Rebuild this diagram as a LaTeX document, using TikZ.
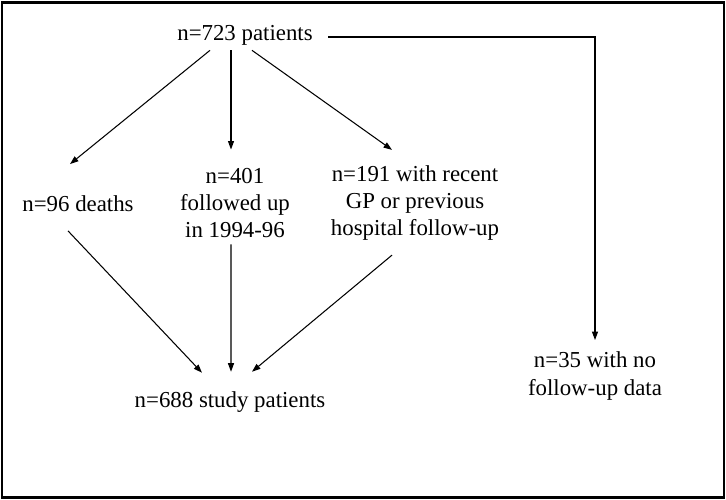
\documentclass[tikz,border=0pt]{standalone}
\usepackage{fontspec}
\setmainfont{Liberation Serif}
\usetikzlibrary{arrows.meta, positioning, calc}

\begin{document}
\begin{tikzpicture}[
    font=\fontsize{13}{15.6}\selectfont,
    >={Triangle[length=1.7mm,width=1.2mm]},
    label/.style={align=center, inner sep=0pt},
    arrow/.style={->, line width=0.6pt, black},
    frame/.style={draw, line width=1.2pt}
  ]
    \useasboundingbox (0,0) rectangle (14.52,10);
    \draw[frame] (0.04,0.05) rectangle (14.48,9.95);
    \node[label] (total) at (4.9,9.3) {n=723 patients};
    \node[label] (deaths) at (1.56,5.92) {n=96 deaths};
    \node[label] (followed) at (4.7,5.94) {n=401\\followed up\\in 1994-96};
    \node[label] (recent) at (8.3,5.94) {n=191 with recent\\GP or previous\\hospital follow-up};
    \node[label] (study) at (4.6,1.96) {n=688 study patients};
    \node[label] (nodata) at (11.9,2.48) {n=35 with no\\follow-up data};
    % split of the 723
    \draw[arrow] ($(total.south)+(-0.7,-0.1)$) -- ($(deaths.north)+(-0.16,0.63)$);
    \draw[arrow] ($(total.south)+(-0.28,-0.1)$) -- ($(followed.north)+(-0.08,0.36)$);
    \draw[arrow] ($(total.south)+(0.14,-0.1)$) -- ($(recent.north)+(-0.46,0.3)$);
    \draw[arrow] ($(total.east)+(0.3,-0.04)$) -| ($(nodata.north)+(0,0.23)$);
    % into the study group
    \draw[arrow] ($(deaths.south)+(-0.2,-0.37)$) -- ($(study.north)+(-0.56,0.37)$);
    \draw[arrow] ($(followed.south)+(-0.08,-0.12)$) -- ($(study.north)+(0.02,0.39)$);
    \draw[arrow] ($(recent.south)+(-0.46,-0.28)$) -- ($(study.north)+(0.44,0.39)$);
  \end{tikzpicture}
\end{document}
